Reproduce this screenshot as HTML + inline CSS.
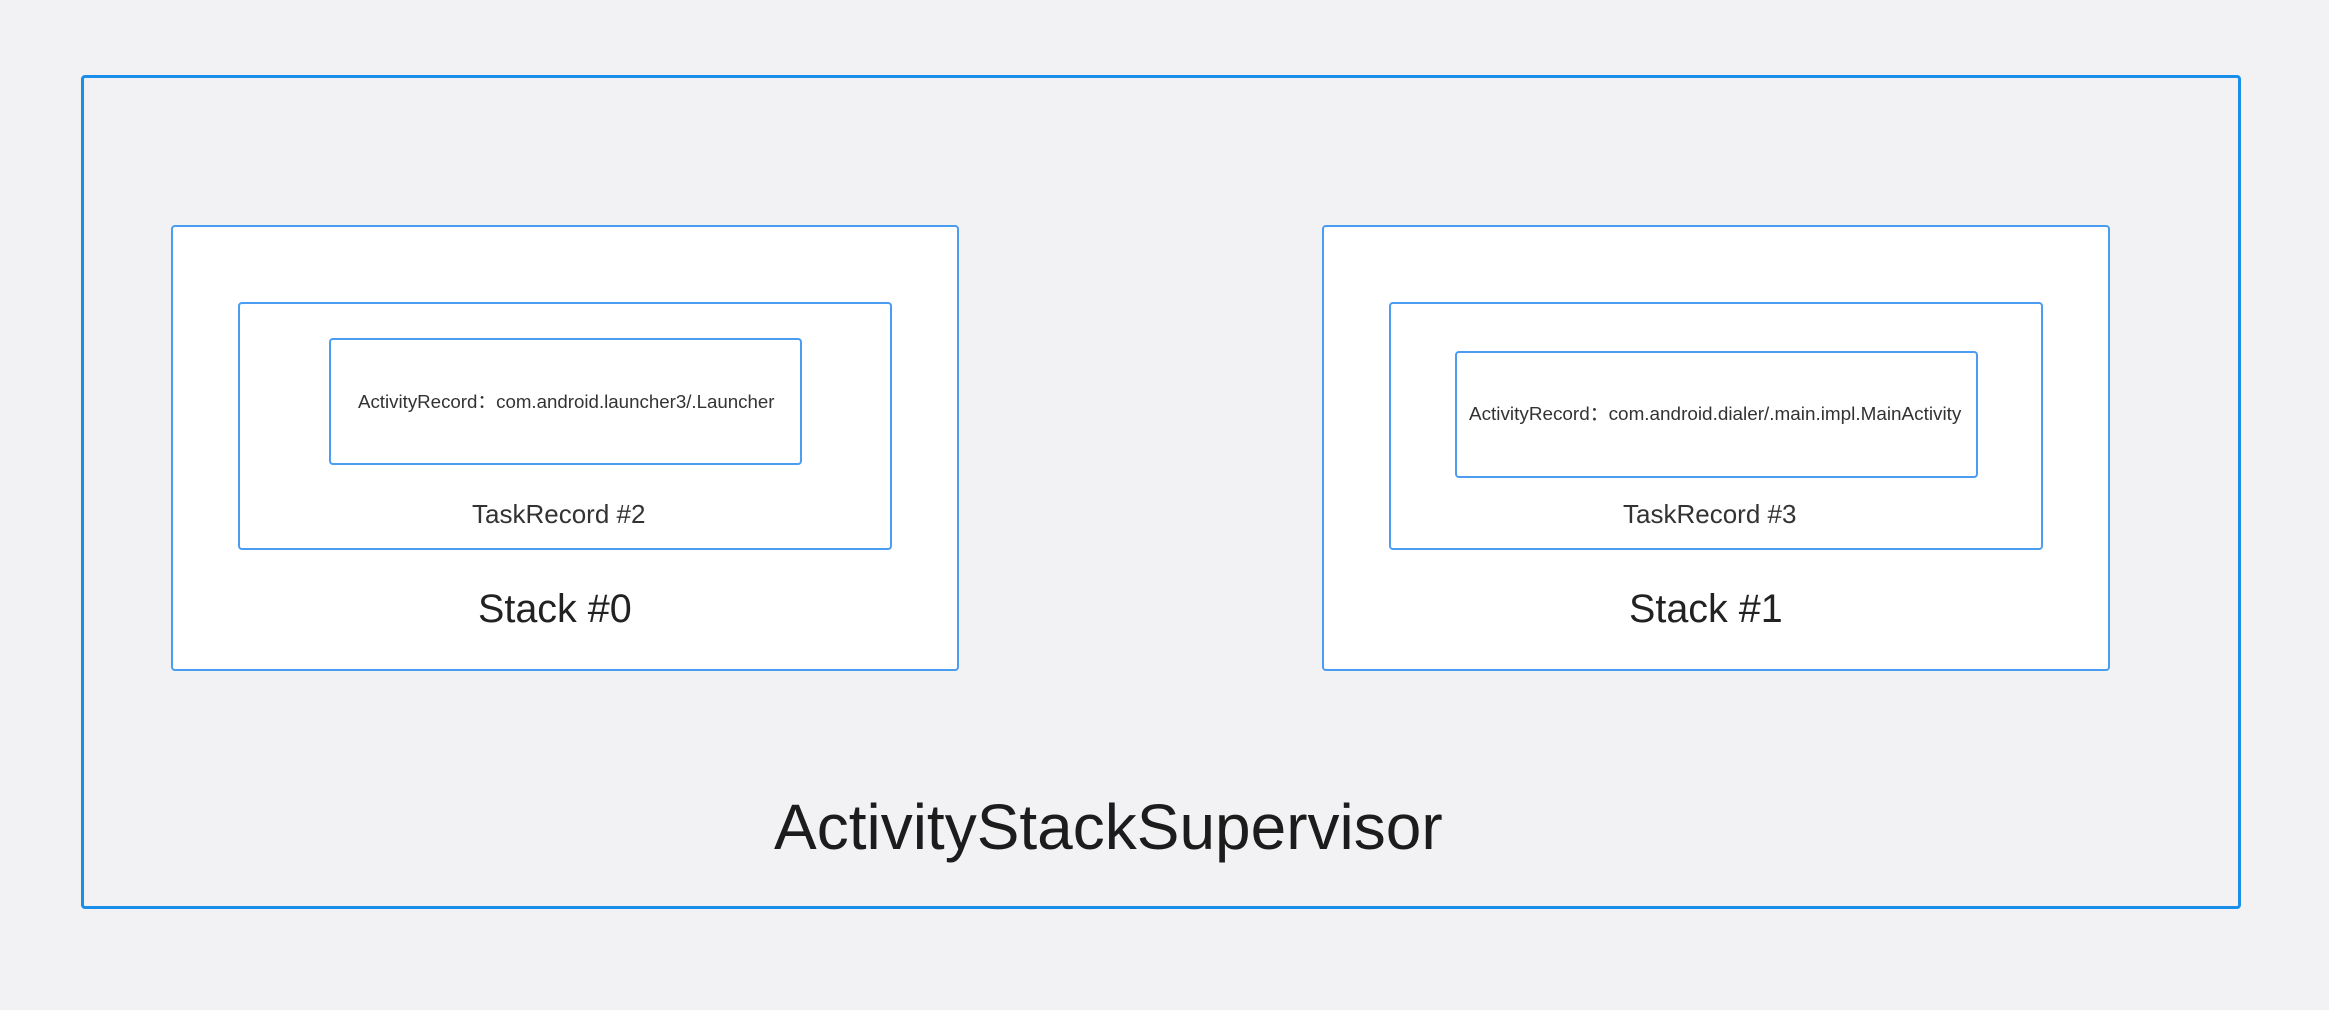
<!DOCTYPE html>
<html><head><style>
body{margin:0;width:2329px;height:1010px;background:#f2f2f4;position:relative;overflow:hidden;font-family:"Liberation Sans","Noto Sans CJK SC",sans-serif;color:#222}
.b{position:absolute;box-sizing:border-box;border-radius:4px}
.t{position:absolute;white-space:nowrap;line-height:1}
</style></head><body>
<div class="b" style="left:81px;top:75px;width:2160px;height:834px;border:3px solid #1a8ee8"></div>
<div class="t" style="left:774px;top:795px;font-size:64px;color:#1c1c1c">ActivityStackSupervisor</div>

<div class="b" style="left:171px;top:225px;width:788px;height:446px;border:2px solid #4a9df0;background:#fff"></div>
<div class="b" style="left:238px;top:302px;width:654px;height:248px;border:2px solid #4a9df0;background:#fff"></div>
<div class="b" style="left:329px;top:338px;width:473px;height:127px;border:2px solid #4a9df0;background:#fff"></div>
<div class="t" style="left:358px;top:393px;font-size:18.7px;color:#333">ActivityRecord：com.android.launcher3/.Launcher</div>
<div class="t" style="left:472px;top:501px;font-size:26px;color:#333">TaskRecord #2</div>
<div class="t" style="left:478px;top:590px;font-size:39.5px;color:#222">Stack #0</div>

<div class="b" style="left:1322px;top:225px;width:788px;height:446px;border:2px solid #4a9df0;background:#fff"></div>
<div class="b" style="left:1389px;top:302px;width:654px;height:248px;border:2px solid #4a9df0;background:#fff"></div>
<div class="b" style="left:1455px;top:351px;width:523px;height:127px;border:2px solid #4a9df0;background:#fff"></div>
<div class="t" style="left:1469px;top:406px;font-size:18.9px;color:#333">ActivityRecord：com.android.dialer/.main.impl.MainActivity</div>
<div class="t" style="left:1623px;top:501px;font-size:26px;color:#333">TaskRecord #3</div>
<div class="t" style="left:1629px;top:590px;font-size:39.5px;color:#222">Stack #1</div>
</body></html>
